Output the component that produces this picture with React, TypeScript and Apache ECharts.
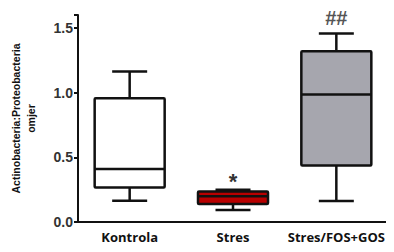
import React, { useEffect, useRef } from "react";
import * as echarts from "echarts";

const categories = ["Kontrola", "Stres", "Stres/FOS+GOS"];
// [min, Q1, median, Q3, max]
const boxValues = [
  [0.165, 0.266, 0.41, 0.956, 1.163],
  [0.093, 0.14, 0.2, 0.235, 0.25],
  [0.163, 0.436, 0.985, 1.32, 1.457],
];
const boxColors = ["#ffffff", "#b80000", "#a6a6ae"];
const marks = ["", "*", "##"];
const yTicks = [0, 0.5, 1.0, 1.5];

export default function App() {
  const ref = useRef<HTMLDivElement>(null);
  useEffect(() => {
    const chart = echarts.init(ref.current!, null, { renderer: "svg" });
    const data = boxValues.map((v, i) => [i, ...v]);
    chart.setOption({
      animation: false,
      grid: { left: 76, right: 6, top: 15, bottom: 30 },
      xAxis: {
        type: "category",
        data: categories,
        axisLine: { lineStyle: { color: "#111", width: 2 } },
        axisTick: { alignWithLabel: true, length: 4, lineStyle: { color: "#111", width: 2 } },
        axisLabel: {
          interval: 0,
          color: "#111",
          fontWeight: "bold",
          fontSize: 13,
          fontFamily: "Open Sans",
          margin: 8,
        },
        splitLine: { show: false },
      },
      yAxis: {
        type: "value",
        min: 0,
        max: 1.6,
        interval: 0.5,
        name: "Actinobacteria:Proteobacteria\nomjer",
        nameLocation: "middle",
        nameRotate: 90,
        nameGap: 40,
        nameTextStyle: {
          color: "#111",
          fontWeight: "bold",
          fontSize: 10.5,
          lineHeight: 15,
          fontFamily: "Arial",
        },
        axisLine: { show: true, lineStyle: { color: "#111", width: 2 } },
        axisTick: { show: true, length: 4, lineStyle: { color: "#111", width: 2 } },
        axisLabel: {
          color: "#333",
          fontWeight: "bold",
          fontSize: 14,
          fontFamily: "Arial",
          margin: 5,
          formatter: (v: number) => (yTicks.includes(v) ? v.toFixed(1) : ""),
        },
        splitLine: { show: false },
      },
      series: [
        {
          type: "custom",
          data,
          renderItem: (params: any, api: any) => {
            const i = api.value(0);
            const [mn, q1, md, q3, mx] = [1, 2, 3, 4, 5].map((k) => api.value(k));
            const cx = api.coord([i, 0])[0];
            const y = (v: number) => api.coord([i, v])[1];
            const half = 35;
            const cap = 17.5;
            const ls = { stroke: "#111", lineWidth: 2.5 };
            const children: any[] = [
              { type: "line", shape: { x1: cx, y1: y(mx), x2: cx, y2: y(q3) }, style: ls },
              { type: "line", shape: { x1: cx, y1: y(mn), x2: cx, y2: y(q1) }, style: ls },
              { type: "line", shape: { x1: cx - cap, y1: y(mx), x2: cx + cap, y2: y(mx) }, style: ls },
              { type: "line", shape: { x1: cx - cap, y1: y(mn), x2: cx + cap, y2: y(mn) }, style: ls },
              {
                type: "rect",
                shape: { x: cx - half, y: y(q3), width: half * 2, height: y(q1) - y(q3), r: 1 },
                style: { fill: boxColors[i], stroke: "#111", lineWidth: 2.5 },
              },
              { type: "line", shape: { x1: cx - half, y1: y(md), x2: cx + half, y2: y(md) }, style: ls },
            ];
            if (marks[i] === "*") {
              children.push({
                type: "text",
                x: cx,
                y: y(mx) - 8,
                style: {
                  text: "*",
                  fill: "#333",
                  fontSize: 22,
                  fontWeight: "bold",
                  fontFamily: "Arial",
                  align: "center",
                  verticalAlign: "middle",
                },
              });
            } else if (marks[i]) {
              children.push({
                type: "text",
                x: cx,
                y: y(mx) - 6,
                style: {
                  text: marks[i],
                  fill: "#555",
                  fontSize: 20,
                  fontWeight: "bold",
                  fontFamily: "Arial",
                  align: "center",
                  verticalAlign: "bottom",
                },
              });
            }
            return { type: "group", children };
          },
        },
      ],
    });
    return () => chart.dispose();
  }, []);
  return <div ref={ref} style={{ width: 394, height: 252, margin: -8 }} />;
}
